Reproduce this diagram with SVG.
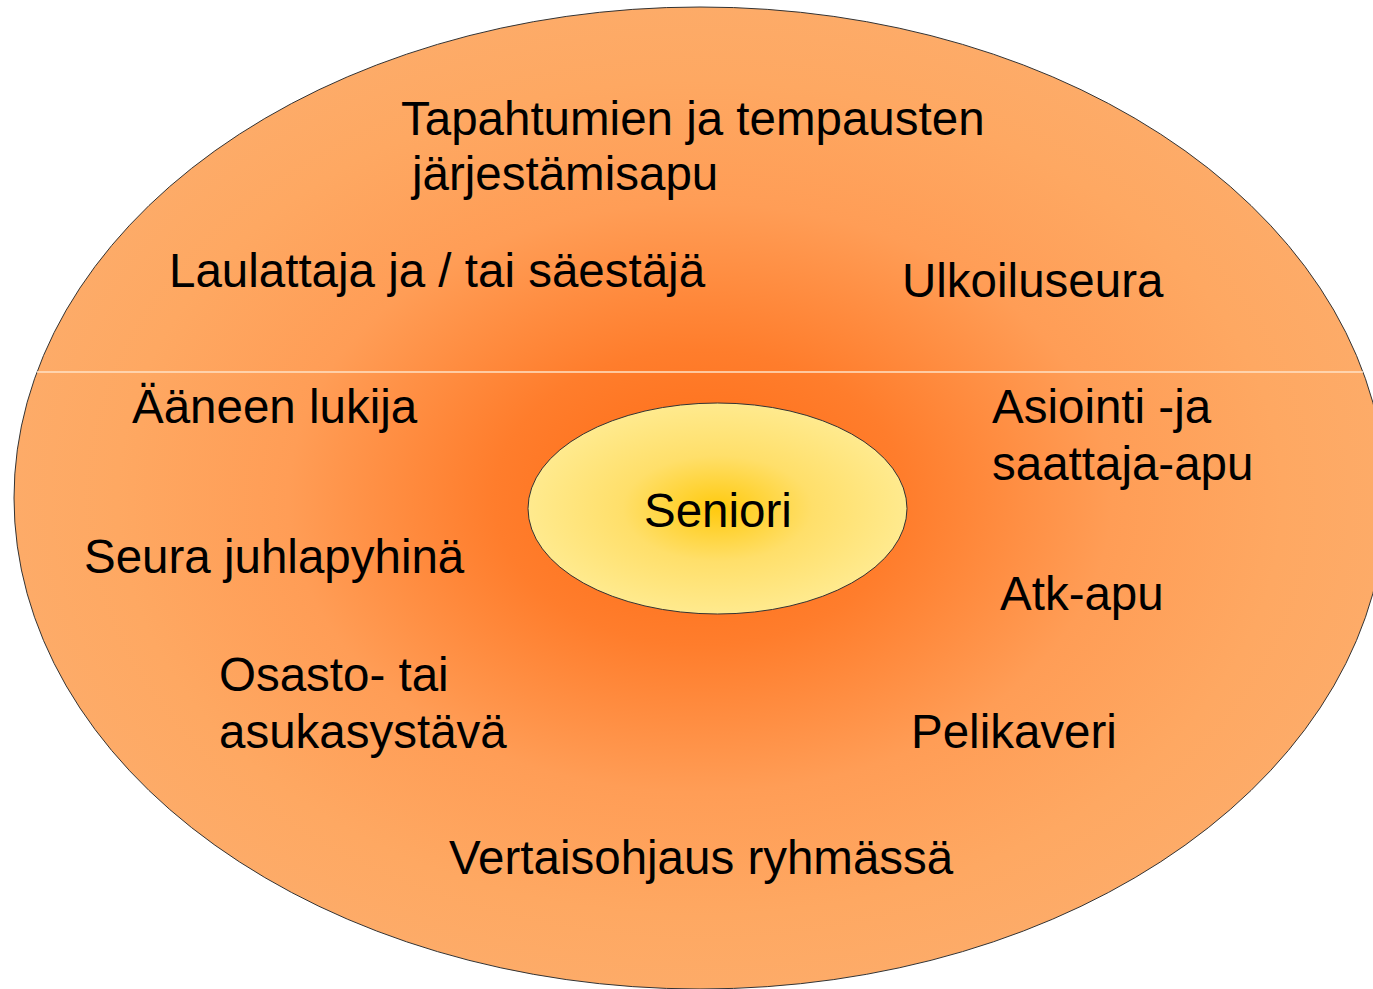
<svg xmlns="http://www.w3.org/2000/svg" width="1373" height="989" viewBox="0 0 1373 989">
  <defs>
    <radialGradient id="gOuter" cx="0.5" cy="0.5" r="0.5">
      <stop offset="0" stop-color="#ff6a12"/>
      <stop offset="0.3" stop-color="#ff7d2c"/>
      <stop offset="0.6" stop-color="#ff9d56"/>
      <stop offset="0.85" stop-color="#fea862"/>
      <stop offset="1" stop-color="#fdab68"/>
    </radialGradient>
    <radialGradient id="gInner" cx="0.5" cy="0.5" r="0.5">
      <stop offset="0" stop-color="#ffca0e"/>
      <stop offset="0.5" stop-color="#ffdf6a"/>
      <stop offset="1" stop-color="#ffea8e"/>
    </radialGradient>
  </defs>
  <style>
    .lbl { font-family: "Liberation Sans", Arial, sans-serif; font-size: 47.5px; fill: #000; }
  </style>
  <rect width="1373" height="989" fill="#ffffff"/>
  <g id="outer">
    <ellipse cx="700" cy="498" rx="686" ry="491" fill="url(#gOuter)" stroke="#333" stroke-width="1"/>
    <line x1="37" y1="372" x2="1363" y2="372" stroke="#ffe2c6" stroke-width="1.5"/>
  </g>
  <g id="seniori">
    <ellipse cx="717.5" cy="508.5" rx="189.5" ry="105.5" fill="url(#gInner)" stroke="#333" stroke-width="1"/>
    <text class="lbl" x="644" y="527">Seniori</text>
  </g>
  <g id="tapahtumat">
    <text class="lbl" x="401" y="135">Tapahtumien ja tempausten</text>
    <text class="lbl" x="412" y="190">järjestämisapu</text>
  </g>
  <g id="laulattaja"><text class="lbl" x="169" y="287">Laulattaja ja / tai säestäjä</text></g>
  <g id="ulkoilu"><text class="lbl" x="902" y="297">Ulkoiluseura</text></g>
  <g id="aaneen"><text class="lbl" x="132" y="423">Ääneen lukija</text></g>
  <g id="asiointi">
    <text class="lbl" x="992" y="423">Asiointi -ja</text>
    <text class="lbl" x="992" y="480">saattaja-apu</text>
  </g>
  <g id="seura"><text class="lbl" x="84" y="573">Seura juhlapyhinä</text></g>
  <g id="atk"><text class="lbl" x="1000" y="610">Atk-apu</text></g>
  <g id="osasto">
    <text class="lbl" x="219" y="691">Osasto- tai</text>
    <text class="lbl" x="219" y="748">asukasystävä</text>
  </g>
  <g id="peli"><text class="lbl" x="911" y="748">Pelikaveri</text></g>
  <g id="vertais"><text class="lbl" x="449" y="874">Vertaisohjaus ryhmässä</text></g>
  <g id="connectors"></g>
</svg>
